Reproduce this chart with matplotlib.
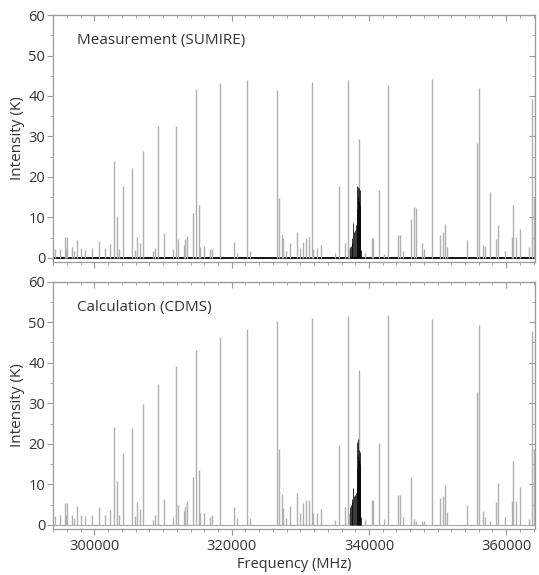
import numpy as np
import matplotlib
matplotlib.use("Agg")
import matplotlib.pyplot as plt
from matplotlib.ticker import MultipleLocator

plt.rcParams['font.family'] = ['Open Sans', 'DejaVu Sans']

# transitions drawn in grey: frequency (MHz), measured and calculated intensity (K)
line_freq = [302886, 303280, 304111, 305423, 307070, 309257, 311837, 314359,
             314796, 315233, 318251, 322230, 326647, 326939, 327376, 331647,
             335685, 336909, 338556, 341515, 342827, 346063, 346574, 346865,
             349241, 355684, 356034, 357652, 358818, 361048, 362000, 363760,
             364110,
             294198, 294927, 295656, 295991, 295802, 296764, 297012, 297449,
             298076, 298615, 299679, 300656, 301487, 302303, 303528, 305947,
             306195, 306676, 308528, 308775, 310131, 311443, 312216, 313046,
             313192, 313527, 315379, 315918, 316793, 317084, 320379, 320816,
             322667, 327480, 327915, 328498, 329562, 329956, 330320, 330830,
             331311, 331851, 332390, 332973, 335101, 336515, 337055, 339431,
             340407, 340640, 342200, 344285, 344533, 345014, 347696, 348031,
             350364, 350757, 351049, 351340, 354299, 356588, 356879, 358527,
             359839, 360815, 361442, 363370]
line_meas = [24.0, 10.3, 17.8, 22.3, 26.5, 32.5, 32.5, 11.2,
             41.7, 13.0, 43.2, 44.0, 41.5, 14.9, 6.0, 43.4,
             17.8, 43.9, 29.4, 16.8, 42.7, 9.7, 12.6, 12.3,
             44.1, 28.3, 42.0, 16.4, 8.1, 13.0, 7.2, 39.2,
             14.9,
             2.3, 2.3, 5.3, 5.3, 2.5, 2.6, 1.8, 4.4,
             2.5, 2.0, 2.5, 4.3, 2.5, 3.5, 2.3, 2.0,
             5.3, 3.6, 1.6, 2.5, 6.1, 2.1, 4.6, 3.3,
             4.6, 5.4, 2.8, 3.0, 2.1, 2.3, 4.0, 1.2,
             1.6, 5.0, 1.6, 3.6, 6.3, 2.5, 4.0, 5.0,
             5.3, 2.1, 2.5, 3.3, 1.2, 3.6, 2.5, 1.2,
             4.9, 4.9, 1.0, 5.6, 5.6, 1.6, 3.6, 2.1,
             5.6, 6.4, 8.4, 2.6, 4.4, 3.1, 3.0, 4.6,
             1.6, 5.1, 5.1, 2.8]
line_calc = [24.2, 10.8, 17.7, 23.8, 29.7, 34.7, 39.1, 11.7,
             43.2, 13.5, 46.3, 48.2, 50.2, 18.7, 7.6, 50.9,
             19.7, 51.4, 38.2, 20.1, 51.7, 11.7, 1.5, 1.0,
             50.7, 32.8, 49.3, 1.0, 10.3, 15.8, 9.3, 47.9,
             18.6,
             2.2, 2.4, 5.3, 5.3, 2.5, 2.5, 1.8, 4.7,
             2.5, 2.2, 2.5, 4.5, 2.5, 3.7, 2.5, 2.2,
             5.7, 4.0, 1.2, 2.5, 6.5, 1.6, 4.8, 3.4,
             4.7, 6.0, 2.9, 3.0, 2.0, 2.4, 4.4, 1.6,
             1.6, 4.2, 1.7, 4.7, 7.8, 3.0, 5.3, 6.2,
             6.2, 2.9, 2.9, 3.9, 1.2, 4.4, 2.9, 1.2,
             6.2, 6.2, 1.5, 7.4, 7.4, 1.9, 1.0, 1.0,
             6.6, 7.1, 9.9, 3.2, 4.8, 3.4, 2.0, 5.6,
             2.0, 6.0, 6.0, 1.5]

# dense group drawn in black
cluster_freq = [337244, 337370, 337492, 337600, 337725, 337871, 337990, 338119,
                338220, 338308, 338380, 338454, 338530, 338600, 338680, 338746,
                338820]
cluster_meas = [2.8, 3.0, 3.6, 5.0, 8.7, 6.5, 7.0, 8.1,
                12.0, 17.8, 15.0, 17.5, 14.0, 17.2, 13.0, 16.8, 2.0]
cluster_calc = [4.5, 5.0, 5.7, 6.5, 9.0, 7.1, 7.5, 7.8,
                14.0, 20.5, 17.0, 21.3, 16.0, 18.5, 15.0, 18.0, 2.0]

panel_titles = ["Measurement (SUMIRE)", "Calculation (CDMS)"]
x_range = (293950, 364200)

fig = plt.figure(figsize=(5.39, 5.75), dpi=100)
ax1 = fig.add_axes([0.0983, 0.5443, 0.8943, 0.4296])
ax2 = fig.add_axes([0.0983, 0.0800, 0.8943, 0.4304])

spine_col = '#9a9a9a'
txt_col = '#333333'

for i, (ax, h, hc) in enumerate([(ax1, line_meas, cluster_meas),
                                 (ax2, line_calc, cluster_calc)]):
    if i == 0:
        ax.axhline(0, color='black', lw=1.3, zorder=1)
    else:
        ax.axhline(0, color='#a8a8a8', lw=0.8, zorder=1)
    ax.vlines(line_freq, 0, h, colors='#b0b0b0', lw=1.0, zorder=2)
    ax.vlines(cluster_freq, 0, hc, colors='black', lw=0.55, zorder=3)

    ax.set_xlim(*x_range)
    ax.set_ylim(-1, 60)
    ax.xaxis.set_major_locator(MultipleLocator(20000))
    ax.xaxis.set_minor_locator(MultipleLocator(2000))
    ax.yaxis.set_major_locator(MultipleLocator(10))
    ax.yaxis.set_minor_locator(MultipleLocator(5))
    ax.tick_params(which='both', direction='out', colors=spine_col,
                   labelcolor=txt_col, labelsize=10.5, top=False, right=False)
    ax.tick_params(axis='y', pad=1.5)
    ax.tick_params(which='major', length=4, width=0.8)
    ax.tick_params(which='minor', length=2, width=0.6)
    for s in ax.spines.values():
        s.set_color(spine_col)
        s.set_linewidth(0.9)

    sx = ax.secondary_xaxis('top')
    sx.xaxis.set_major_locator(MultipleLocator(20000))
    sx.xaxis.set_minor_locator(MultipleLocator(2000))
    sx.tick_params(which='both', direction='in', colors=spine_col, labeltop=False)
    sx.tick_params(which='major', length=4)
    sx.tick_params(which='minor', length=2)
    sx.spines['top'].set_color(spine_col)
    sy = ax.secondary_yaxis('right')
    sy.yaxis.set_major_locator(MultipleLocator(10))
    sy.yaxis.set_minor_locator(MultipleLocator(5))
    sy.tick_params(which='both', direction='in', colors=spine_col, labelright=False)
    sy.tick_params(which='major', length=4)
    sy.tick_params(which='minor', length=2)
    sy.spines['right'].set_color(spine_col)

    ax.text(0.05, 0.895, panel_titles[i], transform=ax.transAxes, fontsize=11,
            color=txt_col, va='center', ha='left')
    ax.set_ylabel("Intensity (K)", fontsize=11, color=txt_col)
    ax.yaxis.set_label_coords(-0.058, 0.5)

ax1.tick_params(labelbottom=False)
ax2.set_xlabel("Frequency (MHz)", fontsize=10.5, color=txt_col, labelpad=2)

fig.savefig("out.png", dpi=100)
